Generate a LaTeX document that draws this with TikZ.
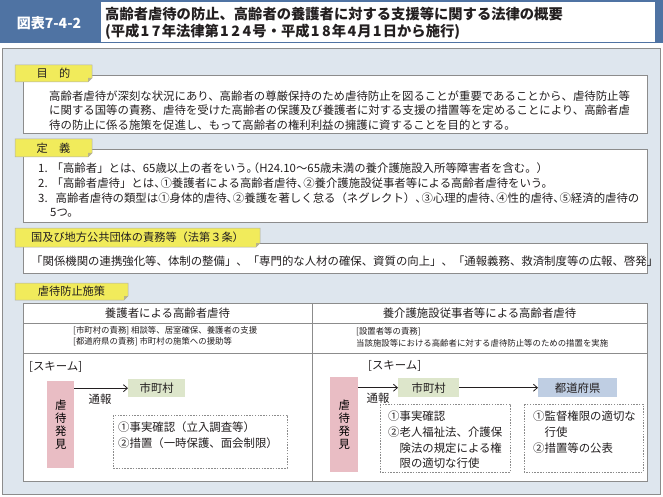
\documentclass[tikz,border=0pt]{standalone}
\usepackage{fontspec}
\setmainfont{Noto Sans CJK JP}
\usetikzlibrary{arrows.meta}
\definecolor{headblue}{HTML}{4F73A3}
\definecolor{panelbg}{HTML}{DEE6EE}
\definecolor{tabyellow}{HTML}{F1EB5B}
\definecolor{tabfold}{HTML}{B8B48A}
\definecolor{pinkbox}{HTML}{E9BDC4}
\definecolor{greenbox}{HTML}{DDE6CB}
\definecolor{bluebox}{HTML}{BFCEE3}
\definecolor{edge}{HTML}{8C8C8C}
\definecolor{ink}{HTML}{231F20}
\newcommand\hk{\makebox[0.55em][l]{、}}
\newcommand\hm{\makebox[0.55em][l]{。}}
\newcommand\hp{\makebox[0.55em][r]{（}}
\newcommand\dd[1]{\makebox[0.78em]{#1}}
\newcommand\mytab[6]{%
  \fill[tabyellow,draw=edge!70,line width=0.5pt] (#2,#3) -- (#4,#3) -- (#4,#5-4) -- (#4-4,#5) -- (#2,#5) -- cycle;
  \fill[tabfold] (#4,#5-4) -- (#4-4,#5-4) -- (#4-4,#5) -- cycle;
  \node[tabtext] (#1) at ({(#2+#4)/2},{(#3+#5)/2}) {#6};}
\tikzset{
  body/.style={anchor=west,inner sep=0pt,text=ink,font=\fontsize{11.4}{13}\selectfont},
  small/.style={anchor=west,inner sep=0pt,text=ink,font=\fontsize{8.4}{10}\selectfont},
  tabtext/.style={inner sep=0pt,text=ink,font=\fontsize{11.2}{13}\selectfont},
  titletext/.style={anchor=west,inner sep=0pt,text=ink,font=\bfseries\fontsize{14.3}{16}\selectfont},
  whitebox/.style={fill=white,draw=edge,line width=0.8pt},
  dotbox/.style={draw=edge,dash pattern=on 1.5pt off 1.3pt,line width=0.7pt,fill=white},
  schemebox/.style={anchor=north west,inner sep=0pt,draw=none,text=ink,font=\fontsize{11.4}{13}\selectfont},
  vtext/.style={align=center,font=\fontsize{11.4}{12.7}\selectfont},
  arr/.style={-{Straight Barb[length=4pt,width=7pt]},line width=0.8pt,draw=ink},
}
\begin{document}
\begin{tikzpicture}[x=1pt,y=-1pt]
\useasboundingbox (0,0) rectangle (663,497);
\fill[white] (0,0) rectangle (663,497);
% header
\fill[headblue] (0,0) rectangle (663,43);
\fill[white] (101,2) rectangle (655,42);
\node[text=white,inner sep=0pt,font=\bfseries\fontsize{14}{16}\selectfont] (lab) at (49,23) {図表7-4-2};
\node[titletext] (ttl1) at (105,14) {高齢者虐待の防止、高齢者の養護者に対する支援等に関する法律の概要};
\node[titletext] (ttl2) at (105,32) {(平成\dd{1}\dd{7}年法律第\dd{1}\dd{2}\dd{4}号・平成\dd{1}\dd{8}年\dd{4}月\dd{1}日から施行)};
% panel
\filldraw[fill=panelbg,draw=edge,line width=0.8pt] (2,48) rectangle (660,494);
% purpose
\draw[whitebox] (23,75) rectangle (647,133);
\mytab{tab1}{15}{65}{92}{82}{目　的}
\node[body] (p1) at (49,96) {高齢者虐待が深刻な状況にあり、高齢者の尊厳保持のため虐待防止を図ることが重要であることから、虐待防止等};
\node[body] (p2) at (49,110.5) {に関する国等の責務、虐待を受けた高齢者の保護及び養護者に対する支援の措置等を定めることにより、高齢者虐};
\node[body] (p3) at (49,125) {待の防止に係る施策を促進し、もって高齢者の権利利益の擁護に資することを目的とする。};
% definition
\draw[whitebox] (23,149) rectangle (647,222);
\mytab{tab2}{15}{139}{92}{157}{定　義}
\node[body] (d1) at (38,168) {1.\hspace{4pt}「高齢者」とは、65歳以上の者をいう\hm{}\hp{}H24.10～65歳未満の養介護施設入所等障害者を含む。）};
\node[body] (d2) at (38,183) {2.\hspace{4pt}「高齢者虐待」とは\hk{}①養護者による高齢者虐待\hk{}②養介護施設従事者等による高齢者虐待をいう。};
\node[body] (d3) at (38,198) {3.\hspace{8pt}高齢者虐待の類型は①身体的虐待\hk{}②養護を著しく怠る（ネグレクト）\hk{}③心理的虐待\hk{}④性的虐待\hk{}⑤経済的虐待の};
\node[body] (d4) at (50,213) {5つ。};
% national
\draw[whitebox] (23,243) rectangle (647,273);
\mytab{tab3}{15}{228}{260}{247}{国及び地方公共団体の責務等（法第３条）}
\node[body] (n1) at (31,261) {「関係機関の連携強化等、体制の整備」、「専門的な人材の確保、資質の向上」、「通報義務、救済制度等の広報、啓発」};
% measures
\draw[whitebox] (23,303) rectangle (647,481);
\mytab{tab4}{15}{283}{128}{300}{虐待防止施策}
\draw[edge,line width=0.8pt] (23,323) -- (647,323) (23,353) -- (647,353) (312,303) -- (312,481);
\node[body,anchor=center] (h1) at (167.5,313) {養護者による高齢者虐待};
\node[body,anchor=center] (h2) at (479.5,313) {養介護施設従事者等による高齢者虐待};
\node[small] (s1) at (73,331) {[市町村の責務] 相談等、居室確保、養護者の支援};
\node[small] (s2) at (73,342) {[都道府県の責務] 市町村の施策への援助等};
\node[small] (s3) at (356,332) {[設置者等の責務]};
\node[small] (s4) at (356,343) {当該施設等における高齢者に対する虐待防止等のための措置を実施};
% scheme left
\node[body] (sk1) at (29,367) {[スキーム]};
\node[schemebox,fill=pinkbox,minimum width=27pt,minimum height=87pt] (pinkL) at (47,381) {};
\node[vtext] (vL) at (pinkL.center) {虐\\待\\発\\見};
\node[schemebox,fill=greenbox,minimum width=57pt,minimum height=18pt] (townL) at (128,379) {};
\node[body,anchor=center] (townLt) at (townL.center) {市町村};
\draw[arr] (pinkL.east |- townL.west) -- (townL.west);
\node[body,anchor=center] (tsL) at (100,399) {通報};
\draw[dotbox] (113,415) rectangle (287,468);
\node[body] (l1) at (118,427) {①事実確認（立入調査等）};
\node[body] (l2) at (118,443) {②措置（一時保護、面会制限）};
% scheme right
\node[body] (sk2) at (368,366) {[スキーム]};
\node[schemebox,fill=pinkbox,minimum width=28pt,minimum height=95pt] (pinkR) at (330,377) {};
\node[vtext] (vR) at (pinkR.center) {虐\\待\\発\\見};
\node[schemebox,fill=greenbox,minimum width=61pt,minimum height=19pt] (townR) at (398,378) {};
\node[body,anchor=center] (townRt) at (townR.center) {市町村};
\node[schemebox,fill=bluebox,minimum width=79pt,minimum height=19pt] (prefR) at (538,378) {};
\node[body,anchor=center] (prefRt) at (prefR.center) {都道府県};
\draw[arr] (pinkR.east |- townR.west) -- (townR.west);
\draw[arr] (townR.east) -- (prefR.west);
\node[body,anchor=center] (tsR) at (378,398) {通報};
\draw[dotbox] (380,404) rectangle (510,472);
\node[body] (r1) at (388,416) {①事実確認};
\node[body] (r2) at (388,432) {②老人福祉法、介護保};
\node[body] (r3) at (399.4,448) {険法の規定による権};
\node[body] (r4) at (399.4,463) {限の適切な行使};
\draw[dotbox] (524,404) rectangle (643,472);
\node[body] (q1) at (533,416) {①監督権限の適切な};
\node[body] (q2) at (544.4,432) {行使};
\node[body] (q3) at (533,448) {②措置等の公表};
\end{tikzpicture}
\end{document}
